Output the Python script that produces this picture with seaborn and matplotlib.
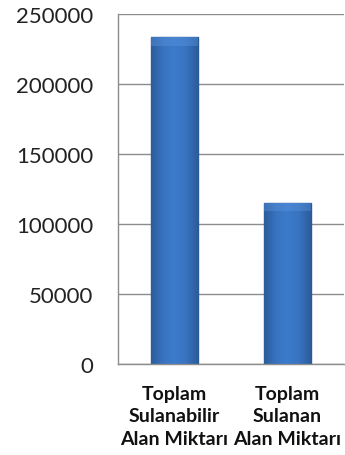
import matplotlib
matplotlib.use("Agg")
import matplotlib.pyplot as plt
import seaborn as sns
import pandas as pd
import numpy as np
from matplotlib.colors import LinearSegmentedColormap

categories = ["Toplam\nSulanabilir\nAlan Miktarı", "Toplam\nSulanan\nAlan Miktarı"]
values = [233500, 115000]
yticks = [0, 50000, 100000, 150000, 200000, 250000]

df = pd.DataFrame({"cat": categories, "val": values})

sns.set_theme(style="white")
plt.rcParams['font.family'] = ['Lato', 'DejaVu Sans']

fig = plt.figure(figsize=(3.45, 4.56), dpi=100)
ax = fig.add_axes([0.342, 0.1996, 0.655, 0.7675])
sns.barplot(data=df, x="cat", y="val", ax=ax, color="#3A78C6", width=0.41,
            edgecolor="#2B5A98", linewidth=1.0, saturation=1)

# horizontal shading of each bar (darker edges, lighter centre)
cmap = LinearSegmentedColormap.from_list(
    "bar", ["#2C5C9C", "#3873C0", "#3C7BCB", "#3873C0", "#2C5C9C"])
grad = np.linspace(0, 1, 64)[None, :]
for p in ax.patches:
    x0, y0 = p.get_x(), p.get_y()
    w, h = p.get_width(), p.get_height()
    im = ax.imshow(grad, cmap=cmap, aspect="auto",
                   extent=[x0, x0 + w, y0, y0 + h], zorder=p.get_zorder() + 0.1)
    im.set_clip_path(p)
    # lighter bevel on top
    ax.fill_between([x0, x0 + w], y0 + h - 6000, y0 + h, color="#5B95DE",
                    alpha=0.4, zorder=p.get_zorder() + 0.2, linewidth=0)
ax.set_xlim(-0.5, 1.5)

ax.set_ylim(0, 250000)
ax.set_yticks(yticks)
ax.set_yticklabels([str(v) for v in yticks], fontsize=16, color="#222222")
ax.yaxis.grid(True, color="#8C8C8C", linewidth=1)
ax.set_axisbelow(True)
for s in ["left", "bottom"]:
    ax.spines[s].set_color("#8C8C8C")
    ax.spines[s].set_linewidth(1)
ax.spines["top"].set_visible(False)
ax.spines["right"].set_visible(False)
ax.tick_params(axis="y", length=0, pad=18)
ax.tick_params(axis="x", length=0, pad=15)
for lbl in ax.get_xticklabels():
    lbl.set_fontsize(14)
    lbl.set_fontweight("bold")
    lbl.set_color("#111111")
    lbl.set_linespacing(1.4)
ax.set_xlabel("")
ax.set_ylabel("")
fig.savefig("out.png", dpi=100)
